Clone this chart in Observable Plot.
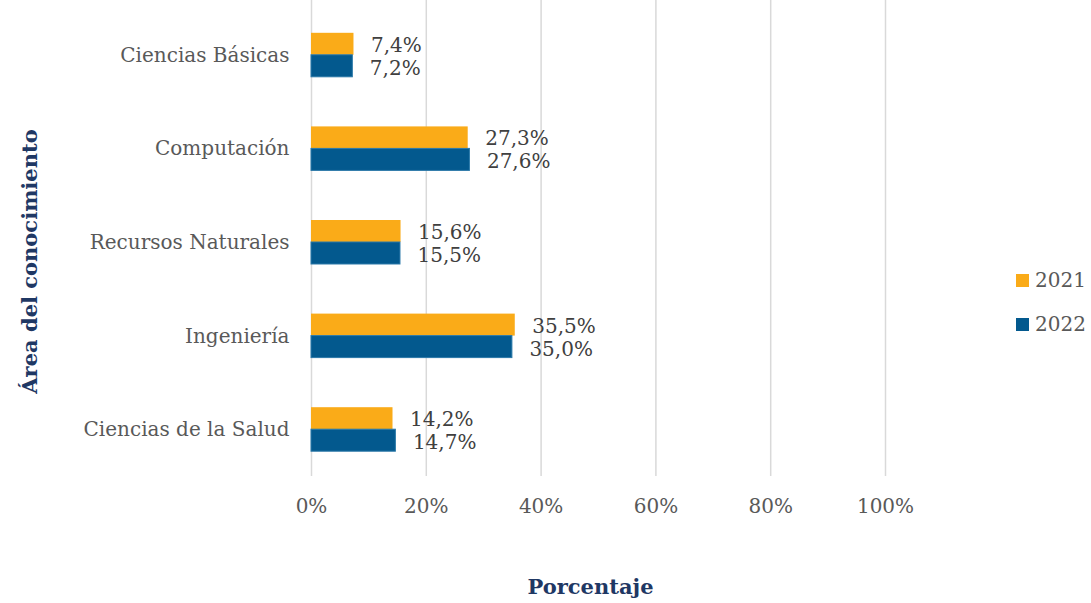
<!DOCTYPE html>
<html>
<head>
<meta charset="utf-8">
<script src="https://cdn.jsdelivr.net/npm/d3@7"></script>
<script src="https://cdn.jsdelivr.net/npm/@observablehq/plot@0.6"></script>
<style>
  html, body { margin: 0; padding: 0; background: #ffffff; }
  #wrap { position: relative; width: 1091px; height: 603px; font-family: "DejaVu Serif", serif; }
  #legend { position: absolute; left: 1016px; top: 268px; color: #595959; font-size: 20px; }
  .row { display: flex; align-items: center; height: 24px; margin-bottom: 20px; }
  .sw { width: 13px; height: 13px; margin-right: 6px; }
</style>
</head>
<body>
<div id="wrap"></div>
<script>
const categories = ["Ciencias Básicas", "Computación", "Recursos Naturales", "Ingeniería", "Ciencias de la Salud"];
const series = ["2021", "2022"];
const values2021 = [7.4, 27.3, 15.6, 35.5, 14.2];
const values2022 = [7.2, 27.6, 15.5, 35.0, 14.7];
const xTicks = [0, 20, 40, 60, 80, 100];
const colors = ["#FAAB18", "#03598E"];
const xTitle = "Porcentaje";
const yTitle = "Área del conocimiento";

const d2021 = categories.map((c, i) => ({category: c, value: values2021[i]}));
const d2022 = categories.map((c, i) => ({category: c, value: values2022[i]}));
const fmt = v => v.toFixed(1).replace(".", ",") + "%";
const textColor = "#595959";
const titleColor = "#1F3864";

const chart = Plot.plot({
  width: 1091,
  height: 603,
  marginLeft: 311,
  marginRight: 206,
  marginTop: 0,
  marginBottom: 127,
  style: {fontFamily: "DejaVu Serif", fontSize: "20px", color: textColor, background: "#ffffff"},
  x: {domain: [0, 100], ticks: xTicks, tickFormat: d => d + "%", label: null},
  y: {domain: categories, range: [8, 476], paddingInner: 0.53, paddingOuter: 0.265, align: 0.5, round: false, label: null},
  marks: [
    Plot.gridX(xTicks, {stroke: "#D9D9D9", strokeOpacity: 1, strokeWidth: 1.5}),
    Plot.axisX({ticks: xTicks, tickFormat: d => d + "%", tickSize: 0, tickPadding: 22, label: null, fontSize: 20, fill: textColor}),
    Plot.axisY({tickSize: 0, tickPadding: 22, label: null, fontSize: 20, fill: textColor}),
    Plot.barX(d2021, {y: "category", x: "value", fill: colors[0], insetBottom: 22}),
    Plot.barX(d2022, {y: "category", x: "value", fill: colors[1], insetTop: 22, stroke: "#2A78A8", strokeWidth: 1}),
    Plot.text(d2021, {y: "category", x: "value", text: d => fmt(d.value), textAnchor: "start", dx: 17, dy: -10, fill: "#404040", fontSize: 20}),
    Plot.text(d2022, {y: "category", x: "value", text: d => fmt(d.value), textAnchor: "start", dx: 17, dy: 13, fill: "#404040", fontSize: 20}),
    Plot.text([xTitle], {frameAnchor: "bottom", textAnchor: "middle", lineAnchor: "middle", dx: -8, dy: 111, fill: titleColor, fontWeight: "bold", fontSize: 21}),
    Plot.text([yTitle], {frameAnchor: "left", textAnchor: "middle", lineAnchor: "middle", dx: -281, dy: 23, rotate: -90, fill: titleColor, fontWeight: "bold", fontSize: 21})
  ]
});

const wrap = document.getElementById("wrap");
wrap.appendChild(chart);

const legend = document.createElement("div");
legend.id = "legend";
series.forEach((s, i) => {
  const row = document.createElement("div");
  row.className = "row";
  const sw = document.createElement("div");
  sw.className = "sw";
  sw.style.background = colors[i];
  const lab = document.createElement("span");
  lab.textContent = s;
  row.appendChild(sw);
  row.appendChild(lab);
  legend.appendChild(row);
});
wrap.appendChild(legend);
</script>
</body>
</html>
